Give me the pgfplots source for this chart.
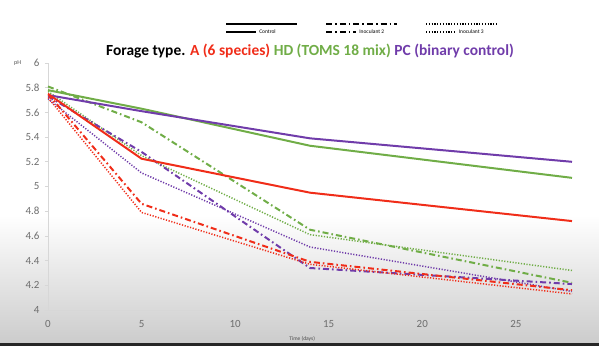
\documentclass[border=0pt]{standalone}
\usepackage{fontspec}
\setmainfont{Carlito}
\usepackage{pgfplots}
\pgfplotsset{compat=1.18}
\definecolor{cred}{RGB}{240,45,25}
\definecolor{cgreen}{RGB}{112,173,71}
\definecolor{cpurple}{RGB}{112,60,170}
\definecolor{tickgray}{RGB}{110,110,110}
\definecolor{axgray}{RGB}{215,215,215}
\tikzset{
  dashdotx/.style={dash pattern=on 6bp off 3bp on 1.6bp off 3bp},
  dotx/.style={dash pattern=on 1.2bp off 1.6bp},
}
\begin{document}
\begin{tikzpicture}
\useasboundingbox (-48bp,-39bp) rectangle (551bp,310bp);
\shade[top color=white, bottom color=black!20] (-48bp,-33bp) rectangle (551bp,95bp);
\fill[black!85] (-48bp,-36bp) rectangle (551bp,-33bp);
\begin{axis}[
  scale only axis, width=524bp, height=247bp,
  at={(0,0)}, anchor=south west,
  xmin=0, xmax=28, ymin=4, ymax=6,
  xtick={0,5,10,15,20,25},
  ytick={4,4.2,...,6.01},
  axis x line*=bottom, axis y line*=left,
  x axis line style={-, draw=axgray, line width=0.8bp},
  y axis line style={-, draw=axgray, line width=0.8bp},
  tick style={draw=axgray, line width=0.8bp},
  tick align=outside, major tick length=3bp,
  ytick style={draw=axgray}, xtick style={draw=none},
  /pgf/number format/assume math mode=true,
  /pgf/number format/fixed, /pgf/number format/precision=1,
  ticklabel style={font=\fontsize{11}{12}\selectfont, text=tickgray},
  xticklabel style={yshift=-4bp},
  yticklabel style={xshift=-2bp},
  xlabel={Time (days)},
  xlabel style={font=\fontsize{5.5}{6}\selectfont, text=black!70, at={(axis description cs:0.485,0)}, anchor=north, yshift=-23bp},
  ylabel={pH},
  ylabel style={rotate=-90, font=\fontsize{6}{7}\selectfont, text=black!70, at={(axis description cs:-0.058,1.0)}, anchor=center},
  title={\textbf{Forage type. \textcolor{cred}{A (6 species)} \textcolor{cgreen}{HD (TOMS 18 mix)} \textcolor{cpurple}{PC (binary control)}}},
  title style={font=\fontsize{15.5}{17}\selectfont, at={(axis description cs:0.5,1)}, anchor=base, yshift=2bp},
  legend columns=3,
  legend image code/.code={\draw[#1,overlay] (0bp,8bp) -- (71bp,8bp); \path (0bp,0bp) -- (30bp,0bp);},
  legend style={at={(axis description cs:0.338,1.106)}, anchor=south west, draw=none, fill=none, inner sep=0pt,
    font=\fontsize{5.5}{6}\selectfont, /tikz/every even column/.append style={column sep=24bp}},
]
\addlegendimage{black, line width=2bp}
\addlegendentry{\makebox[40bp][l]{Control}}
\addlegendimage{black, line width=2bp, dashdotx}
\addlegendentry{\makebox[40bp][l]{Inoculant 2}}
\addlegendimage{black, line width=1.5bp, dotx}
\addlegendentry{\makebox[40bp][l]{Inoculant 3}}

% Green
\addplot[cgreen, line width=2bp, forget plot] coordinates {(0,5.78)(5,5.63)(14,5.33)(28,5.07)};
\addplot[cgreen, line width=2bp, dashdotx, forget plot] coordinates {(0,5.81)(5,5.52)(14,4.65)(28,4.22)};
\addplot[cgreen, line width=1.5bp, dotx, forget plot] coordinates {(0,5.77)(5,5.25)(14,4.61)(28,4.32)};
% Purple
\addplot[cpurple, line width=2bp, forget plot] coordinates {(0,5.74)(5,5.61)(14,5.39)(28,5.20)};
\addplot[cpurple, line width=2bp, dashdotx, forget plot] coordinates {(0,5.73)(5,5.28)(14,4.34)(28,4.21)};
\addplot[cpurple, line width=1.5bp, dotx, forget plot] coordinates {(0,5.71)(5,5.11)(14,4.51)(28,4.15)};
% Red
\addplot[cred, line width=2bp, forget plot] coordinates {(0,5.75)(5,5.225)(14,4.95)(28,4.72)};
\addplot[cred, line width=2bp, dashdotx, forget plot] coordinates {(0,5.75)(5,4.86)(14,4.39)(28,4.16)};
\addplot[cred, line width=1.5bp, dotx, forget plot] coordinates {(0,5.72)(5,4.79)(14,4.37)(28,4.13)};
\end{axis}
\end{tikzpicture}
\end{document}
